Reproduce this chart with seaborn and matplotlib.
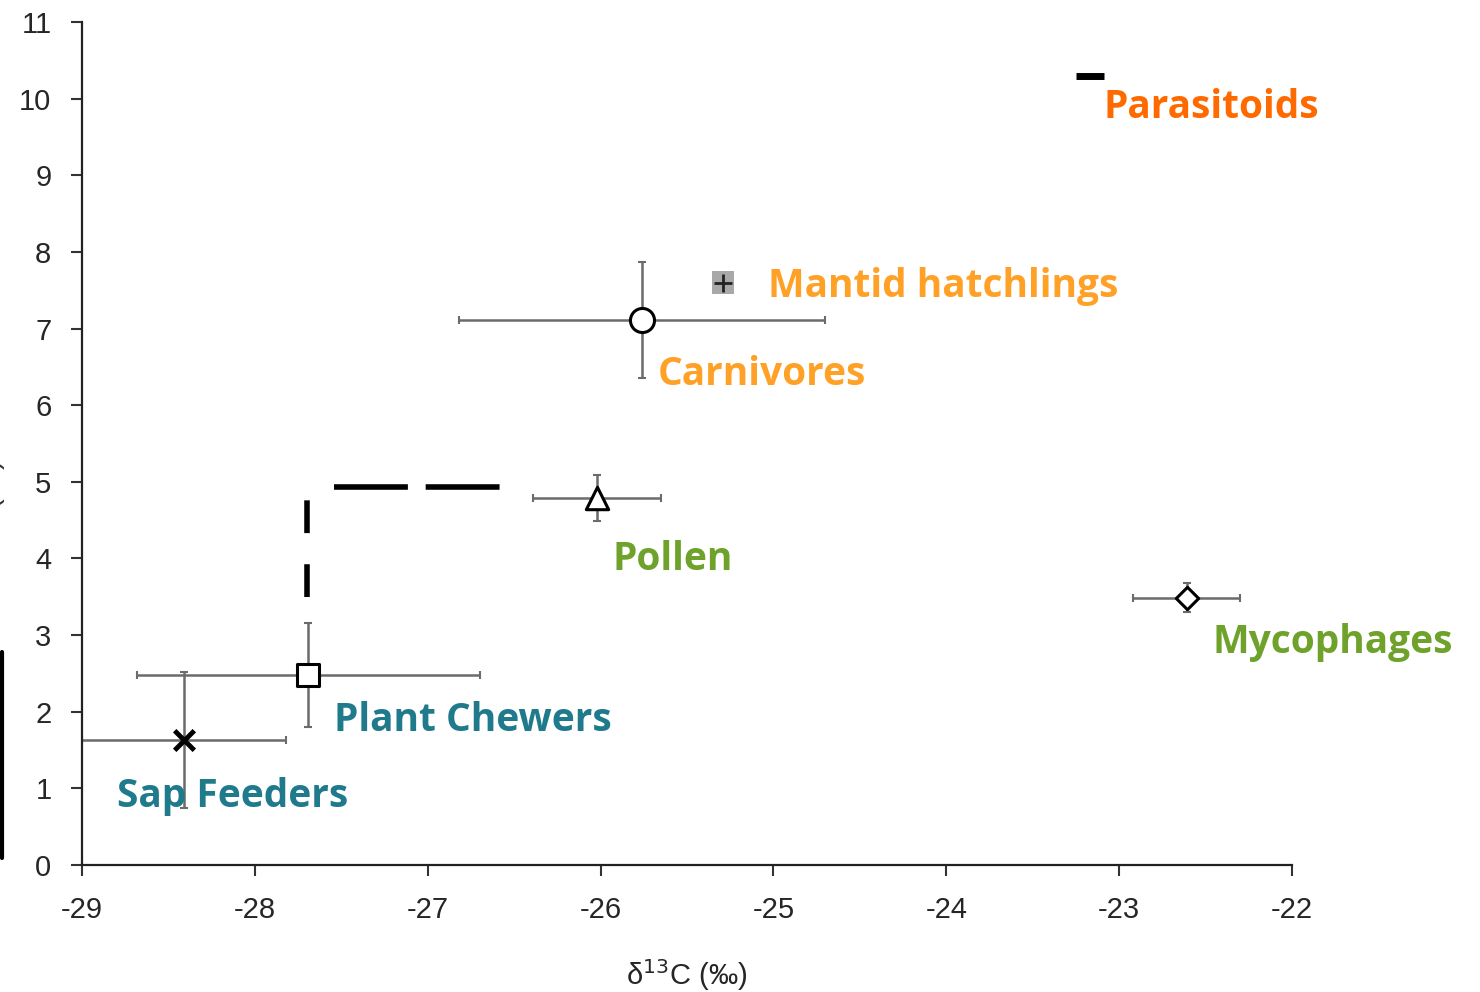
import numpy as np
import pandas as pd
import seaborn as sns
import matplotlib
matplotlib.use("Agg")
from matplotlib import pyplot as plt

# group means and spread
groups = ["Sap Feeders", "Plant Chewers", "Pollen", "Carnivores",
          "Mantid hatchlings", "Mycophages", "Parasitoids"]
d13c = [-28.41, -27.69, -26.02, -25.76, -25.29, -22.61, -23.17]
d15n = [1.63, 2.48, 4.79, 7.11, 7.60, 3.49, 10.30]
xerr = [0.59, 0.99, 0.37, 1.06, 0.0, 0.31, 0.0]
yerr = [0.89, 0.68, 0.30, 0.76, 0.0, 0.19, 0.0]
markers = ["X", "s", "^", "o", "P", "D", "_"]

# label anchors
label_x = [-28.80, -27.54, -25.93, -25.67, -25.03, -22.46, -23.09]
label_y = [0.89, 1.89, 3.98, 6.40, 7.55, 2.90, 9.88]
label_colors = ["#1F7A8C", "#1F7A8C", "#6FA22B", "#FFA126", "#FFA126", "#6FA22B", "#FF6A00"]

# dashed guide line
guide_vx = [-27.70, -27.70]
guide_vy = [3.50, 4.77]
guide_hx = [-27.54, -26.58]
guide_hy = [4.93, 4.93]

xticks = list(range(-29, -21))
yticks = list(range(0, 12))

df = pd.DataFrame({"group": groups, "d13c": d13c, "d15n": d15n,
                   "xerr": xerr, "yerr": yerr})

sns.set_style("ticks")
plt.rcParams["font.family"] = ["Liberation Sans", "DejaVu Sans"]
plt.rcParams["axes.unicode_minus"] = False

fig = plt.figure(figsize=(14.8, 9.92), dpi=100)
ax = fig.add_axes([82 / 1480, 1 - 865 / 992, (1292 - 82) / 1480, (865 - 22) / 992])

# error bars
for _, r in df.iterrows():
    if r.xerr > 0 or r.yerr > 0:
        ax.errorbar(r.d13c, r.d15n, xerr=r.xerr, yerr=r.yerr, fmt="none",
                    ecolor="#6b6b6b", elinewidth=1.8, capsize=3, capthick=1.5, zorder=2)

# markers
for i, g in enumerate(groups):
    sub = df[df.group == g]
    if g == "Mantid hatchlings":
        sns.scatterplot(data=sub, x="d13c", y="d15n", marker="s", s=260, color="#a8a8a8",
                        edgecolor="none", ax=ax, zorder=3, legend=False)
        sns.scatterplot(data=sub, x="d13c", y="d15n", marker="+", s=180, color="#222222",
                        linewidth=2, ax=ax, zorder=4, legend=False)
    elif g == "Parasitoids":
        sns.scatterplot(data=sub, x="d13c", y="d15n", marker="_", s=380, color="black",
                        linewidth=5, ax=ax, zorder=3, legend=False)
    elif g == "Sap Feeders":
        sns.scatterplot(data=sub, x="d13c", y="d15n", marker="x", s=200, color="black",
                        linewidth=3.5, ax=ax, zorder=3, legend=False)
    else:
        size = {"Plant Chewers": 260, "Pollen": 260, "Carnivores": 300, "Mycophages": 130}[g]
        sns.scatterplot(data=sub, x="d13c", y="d15n", marker=markers[i], s=size,
                        facecolor="white", edgecolor="black", linewidth=2.2,
                        ax=ax, zorder=3, legend=False)

# dashed guide
ax.plot(guide_vx, guide_vy, color="black", lw=4, dashes=(5.9, 5.6),
        solid_capstyle="butt", dash_capstyle="butt", zorder=3)
ax.plot(guide_hx, guide_hy, color="black", lw=4, dashes=(13.3, 3.2),
        dash_capstyle="butt", zorder=3)

# group labels
for t, lx, ly, c in zip(groups, label_x, label_y, label_colors):
    ax.text(lx, ly, t, color=c, fontsize=28, fontweight="bold",
            family=["Open Sans", "DejaVu Sans"], ha="left", va="center", zorder=5)

ax.set_xlim(-29, -22)
ax.set_ylim(0, 11)
ax.set_xticks(xticks)
ax.set_yticks(yticks)
ax.tick_params(labelsize=21, length=8, width=1.5, color="#333333")
ax.tick_params(axis="x", pad=14)
ax.tick_params(axis="y", pad=14)
for s in ["top", "right"]:
    ax.spines[s].set_visible(False)
for s in ["left", "bottom"]:
    ax.spines[s].set_linewidth(1.6)
    ax.spines[s].set_color("#222222")

ax.set_xlabel("δ$^{13}$C (‰)", fontsize=21, labelpad=24)
ax.set_ylabel("")

# clipped y label and edge bar
fig.text(8 / 1480, 1 - 520 / 992, "δ$^{15}$N (‰)", rotation=90, fontsize=21,
         ha="right", va="center", color="#333333")
fig.add_artist(plt.Line2D([1.5 / 1480, 1.5 / 1480], [1 - 858 / 992, 1 - 652 / 992],
                          color="black", lw=3))

fig.savefig("out.png", dpi=100)
